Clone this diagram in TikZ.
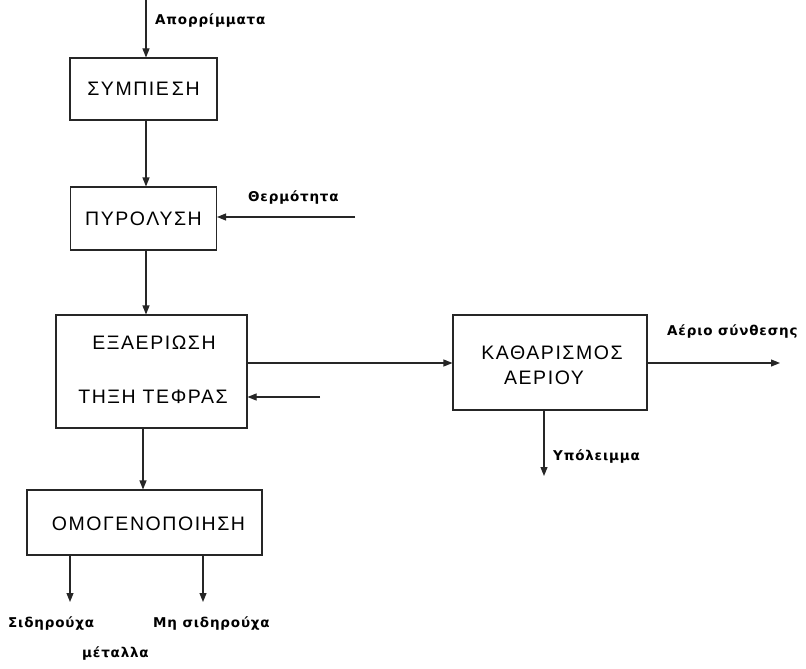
\documentclass[tikz,border=0pt]{standalone}
\usepackage{fontspec}
\setmainfont{Liberation Sans}
\newfontfamily\boxfont[LetterSpace=8]{Liberation Sans}
\newfontfamily\lblfont[LetterSpace=6]{DejaVu Sans}
\usetikzlibrary{arrows.meta}
\tikzset{
  blk/.style={draw=black!85, line width=1.1pt, inner sep=0pt},
  btxt/.style={font=\boxfont\fontsize{19.5}{21}\selectfont, inner sep=0pt},
  lbl/.style={font=\lblfont\bfseries\fontsize{13.5}{15}\selectfont, inner sep=0pt},
  flow/.style={draw=black!85, line width=1.1pt, -{Triangle[length=9pt,width=7pt]}},
}
\begin{document}
\begin{tikzpicture}[x=1pt,y=-1pt]
\useasboundingbox[fill=white] (0,0) rectangle (806,669);
% boxes
\node[blk, minimum width=147pt, minimum height=62pt] (sym) at (143.5,89) {};
\node[btxt] (symt) at (143.5,89) {ΣΥΜΠΙΕ\hspace{3pt}ΣΗ};
\node[blk, minimum width=146pt, minimum height=63pt] (pyr) at (143.5,218.5) {};
\node[btxt] (pyrt) at (143.5,219) {ΠΥΡΟΛΥΣΗ};
\node[blk, minimum width=191pt, minimum height=113pt] (exa) at (151.5,371.5) {};
\node[btxt] (exa1) at (154,343) {ΕΞΑΕΡΙΩΣΗ};
\node[btxt] (exa2) at (153,397) {ΤΗΞΗ ΤΕΦΡΑΣ};
\node[blk, minimum width=194pt, minimum height=95pt] (kat) at (550,362.5) {};
\node[btxt] (kat1) at (552,353) {ΚΑΘΑΡΙΣΜΟΣ};
\node[btxt] (kat2) at (544,378) {ΑΕΡΙΟΥ};
\node[blk, minimum width=235pt, minimum height=65pt] (omo) at (144.5,522.5) {};
\node[btxt] (omot) at (148.5,524) {ΟΜΟΓΕΝΟΠΟΙΗΣΗ};
% free ends
\coordinate (in) at (146,0);
\coordinate (heat) at (355,217);
\coordinate (ash) at (320,397);
\coordinate (gas) at (780,363);
\coordinate (res) at (544,476);
\coordinate (fe) at (70,602);
\coordinate (nfe) at (203,602);
\coordinate (exd) at (143,428);
% connectors
\draw[flow] (in) -- (in |- sym.north);
\draw[flow] (in |- sym.south) -- (in |- pyr.north);
\draw[flow] (heat) -- (pyr.east |- heat);
\draw[flow] (in |- pyr.south) -- (in |- exa.north);
\draw[flow] (exa.east |- gas) -- (kat.west |- gas);
\draw[flow] (ash) -- (exa.east |- ash);
\draw[flow] (kat.east |- gas) -- (gas);
\draw[flow] (res |- kat.south) -- (res);
\draw[flow] (exd |- exa.south) -- (exd |- omo.north);
\draw[flow] (fe |- omo.south) -- (fe);
\draw[flow] (nfe |- omo.south) -- (nfe);
% labels
\node[lbl, anchor=west] (l1) at (155,21) {Απορρίμματα};
\node[lbl, anchor=west] (l2) at (248,198) {Θερμότητα};
\node[lbl, anchor=west] (l3) at (667,332) {Αέριο σύνθεσης};
\node[lbl, anchor=west] (l4) at (553,457) {Υπόλειμμα};
\node[lbl, anchor=west] (l5) at (8,623) {Σιδηρούχα};
\node[lbl, anchor=west] (l6) at (153,623) {Μη σιδηρούχα};
\node[lbl, anchor=west] (l7) at (82,654) {μέταλλα};
\end{tikzpicture}
\end{document}
